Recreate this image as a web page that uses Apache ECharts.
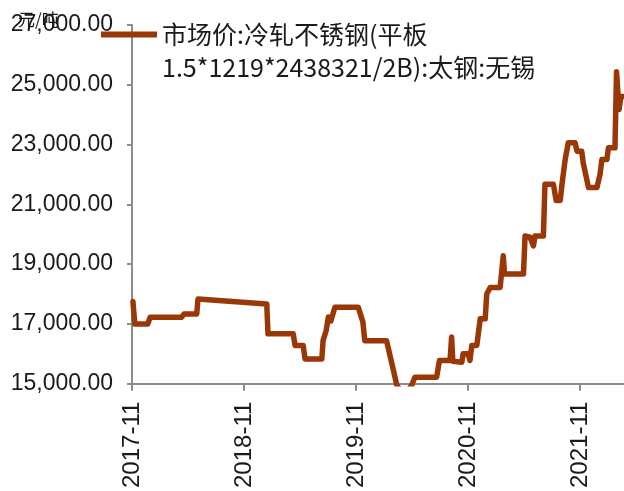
<!DOCTYPE html>
<html>
<head>
<meta charset="utf-8">
<script src="https://cdn.jsdelivr.net/npm/echarts@6/dist/echarts.min.js"></script>
<style>
  html, body { margin: 0; padding: 0; background: #fff; }
</style>
</head>
<body>
<div id="chart" style="width: 624px; height: 491px"></div>
<script>
// 市场价:冷轧不锈钢 太钢 无锡 (元/吨)
const seriesName = "市场价:冷轧不锈钢(平板1.5*1219*2438321/2B):太钢:无锡";
const dates = [
  "2017-11-04", "2017-11-10", "2017-12-22", "2017-12-29", "2018-04-10", "2018-04-18",
  "2018-05-29", "2018-06-03", "2019-01-14", "2019-01-18", "2019-04-09", "2019-04-15",
  "2019-05-11", "2019-05-17", "2019-07-11", "2019-07-15", "2019-07-25", "2019-08-02",
  "2019-08-10", "2019-08-23", "2019-11-08", "2019-11-23", "2019-11-29", "2020-02-09",
  "2020-03-12", "2020-04-05", "2020-04-30", "2020-05-10", "2020-07-20", "2020-07-29",
  "2020-09-03", "2020-09-08", "2020-09-12", "2020-10-11", "2020-10-15", "2020-11-01",
  "2020-11-07", "2020-11-13", "2020-11-29", "2020-12-10", "2020-12-26", "2021-01-01",
  "2021-01-12", "2021-02-14", "2021-02-24", "2021-02-28", "2021-04-29", "2021-05-04",
  "2021-05-20", "2021-06-01", "2021-06-06", "2021-07-03", "2021-07-08", "2021-08-05",
  "2021-08-14", "2021-08-27", "2021-09-02", "2021-09-13", "2021-09-23", "2021-10-15",
  "2021-10-21", "2021-11-06", "2021-11-11", "2021-11-28", "2021-12-25", "2022-01-05",
  "2022-01-11", "2022-01-27", "2022-02-02", "2022-02-23", "2022-02-28", "2022-03-06",
  "2022-03-12", "2022-03-22"
];
const prices = [
  17750, 17000, 17000, 17220, 17220, 17330,
  17330, 17830, 17670, 16670, 16670, 16280,
  16280, 15830, 15830, 16440, 16780, 17230,
  17100, 17560, 17560, 17060, 16440, 16440,
  14950, 14600, 14950, 15220, 15220, 15780,
  15780, 16560, 15750, 15720, 16000, 16000,
  15780, 16280, 16280, 17170, 17170, 18000,
  18220, 18220, 19280, 18670, 18670, 19940,
  19900, 19610, 19940, 19940, 21670, 21670,
  21130, 21130, 21610, 22500, 23060, 23060,
  22780, 22780, 22390, 21560, 21560, 22000,
  22500, 22500, 22890, 22890, 25440, 24170,
  24610, 24610
];
const yTicks = [15000, 17000, 19000, 21000, 23000, 25000, 27000];
const xTickLabels = ["2017-11", "2018-11", "2019-11", "2020-11", "2021-11"];

// 以2017-11为起点换算成月数
function toMonths(d) {
  const p = d.split("-").map(Number);
  return (p[0] - 2017) * 12 + (p[1] - 11) + (p[2] - 1) / 30;
}

const chart = echarts.init(document.getElementById("chart"));
chart.setOption({
  animation: false,
  color: ["#9a3706"],
  grid: {
    left: 132,
    top: 25,
    right: 0,
    bottom: 106,
    containLabel: false,
  },
  legend: {
    left: 96,
    top: -20,
    icon: "rect",
    itemWidth: 56,
    itemHeight: 6,
    // 前面加空行, 让图例线和第一行文字对齐
    formatter: (name) => "\n" + name.replace("平板", "平板\n"),
    textStyle: {
      fontFamily: "Noto Sans CJK SC",
      fontSize: 25,
      lineHeight: 33,
      color: "#1a1a1a",
    },
    data: [seriesName],
  },
  xAxis: {
    type: "value",
    min: 0,
    max: toMonths("2022-03-22"),
    interval: 12,
    splitLine: { show: false },
    axisLine: { lineStyle: { color: "#8c8c8c", width: 2 } },
    axisTick: { show: true, length: 7, lineStyle: { color: "#8c8c8c", width: 2 } },
    axisLabel: {
      rotate: 90,
      margin: 18,
      fontFamily: "Liberation Sans",
      fontSize: 24,
      color: "#1a1a1a",
      showMaxLabel: false,
      formatter: (v) => (v % 12 === 0 ? xTickLabels[v / 12] || "" : ""),
    },
  },
  yAxis: {
    type: "value",
    name: "元/吨",
    nameLocation: "end",
    nameGap: 5,
    nameMoveOverlap: false,
    nameTextStyle: {
      fontFamily: "Noto Sans CJK SC",
      fontSize: 17,
      color: "#1a1a1a",
      align: "left",
      verticalAlign: "middle",
      padding: [0, 0, 0, -114],
    },
    min: yTicks[0],
    max: yTicks[yTicks.length - 1],
    interval: 2000,
    splitLine: { show: false },
    axisLine: { show: true, lineStyle: { color: "#8c8c8c", width: 2 } },
    axisTick: { show: true, length: 5, lineStyle: { color: "#8c8c8c", width: 2 } },
    axisLabel: {
      margin: 19,
      fontFamily: "Liberation Sans",
      fontSize: 23,
      color: "#1a1a1a",
      formatter: (v) =>
        v.toLocaleString("en-US", { minimumFractionDigits: 2, maximumFractionDigits: 2 }),
    },
  },
  series: [
    {
      name: seriesName,
      type: "line",
      showSymbol: false,
      lineStyle: { width: 5.5, join: "round", cap: "round" },
      data: dates.map((d, i) => [toMonths(d), prices[i]]),
    },
  ],
});
</script>
</body>
</html>
